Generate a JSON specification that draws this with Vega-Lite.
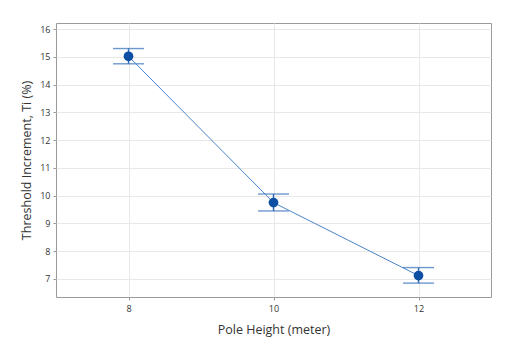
{
  "$schema": "https://vega.github.io/schema/vega-lite/v6.json",
  "autosize": {"type": "none"},
  "padding": {"left": 56, "top": 23, "right": 20, "bottom": 47},
  "width": 435,
  "height": 274,
  "background": "white",
  "config": {
    "view": {"stroke": "#9a9a9a", "strokeWidth": 1},
    "axis": {
      "labelFont": "Open Sans",
      "titleFont": "Open Sans",
      "labelFontSize": 9,
      "labelColor": "#333333",
      "labelOverlap": false,
      "titleFontSize": 12.5,
      "titleFontWeight": "normal",
      "titleColor": "#333333",
      "gridColor": "#e8e8e8",
      "gridWidth": 1,
      "domain": false,
      "tickColor": "#9a9a9a",
      "tickSize": 3
    }
  },
  "data": {
    "values": [
      {"height": 8, "mean": 15.02, "lo": 14.75, "hi": 15.3},
      {"height": 10, "mean": 9.75, "lo": 9.45, "hi": 10.06},
      {"height": 12, "mean": 7.12, "lo": 6.85, "hi": 7.41}
    ]
  },
  "encoding": {
    "x": {
      "field": "height", "type": "quantitative",
      "scale": {"domain": [7, 13], "nice": false, "zero": false},
      "axis": {"values": [8, 10, 12], "title": "Pole Height (meter)", "titlePadding": 10, "labelPadding": 4}
    },
    "y": {
      "field": "mean", "type": "quantitative",
      "scale": {"domain": [6.35, 16.22], "nice": false, "zero": false},
      "axis": {"values": [7, 8, 9, 10, 11, 12, 13, 14, 15, 16], "title": "Threshold Increment, Ti (%)", "titlePadding": 6, "labelPadding": 3}
    }
  },
  "layer": [
    {
      "mark": {"type": "errorbar", "ticks": {"size": 31, "color": "#2f6cb8", "strokeWidth": 1.4}, "color": "#2f6cb8", "thickness": 1.4},
      "encoding": {
        "y": {"field": "lo", "type": "quantitative",
          "axis": {"values": [7, 8, 9, 10, 11, 12, 13, 14, 15, 16], "title": "Threshold Increment, Ti (%)", "titlePadding": 6, "labelPadding": 3}},
        "y2": {"field": "hi"}
      }
    },
    {
      "mark": {"type": "line", "color": "#4a85cc", "strokeWidth": 1}
    },
    {
      "mark": {"type": "point", "filled": true, "color": "#0c4fa3", "size": 95, "opacity": 1}
    }
  ]
}
